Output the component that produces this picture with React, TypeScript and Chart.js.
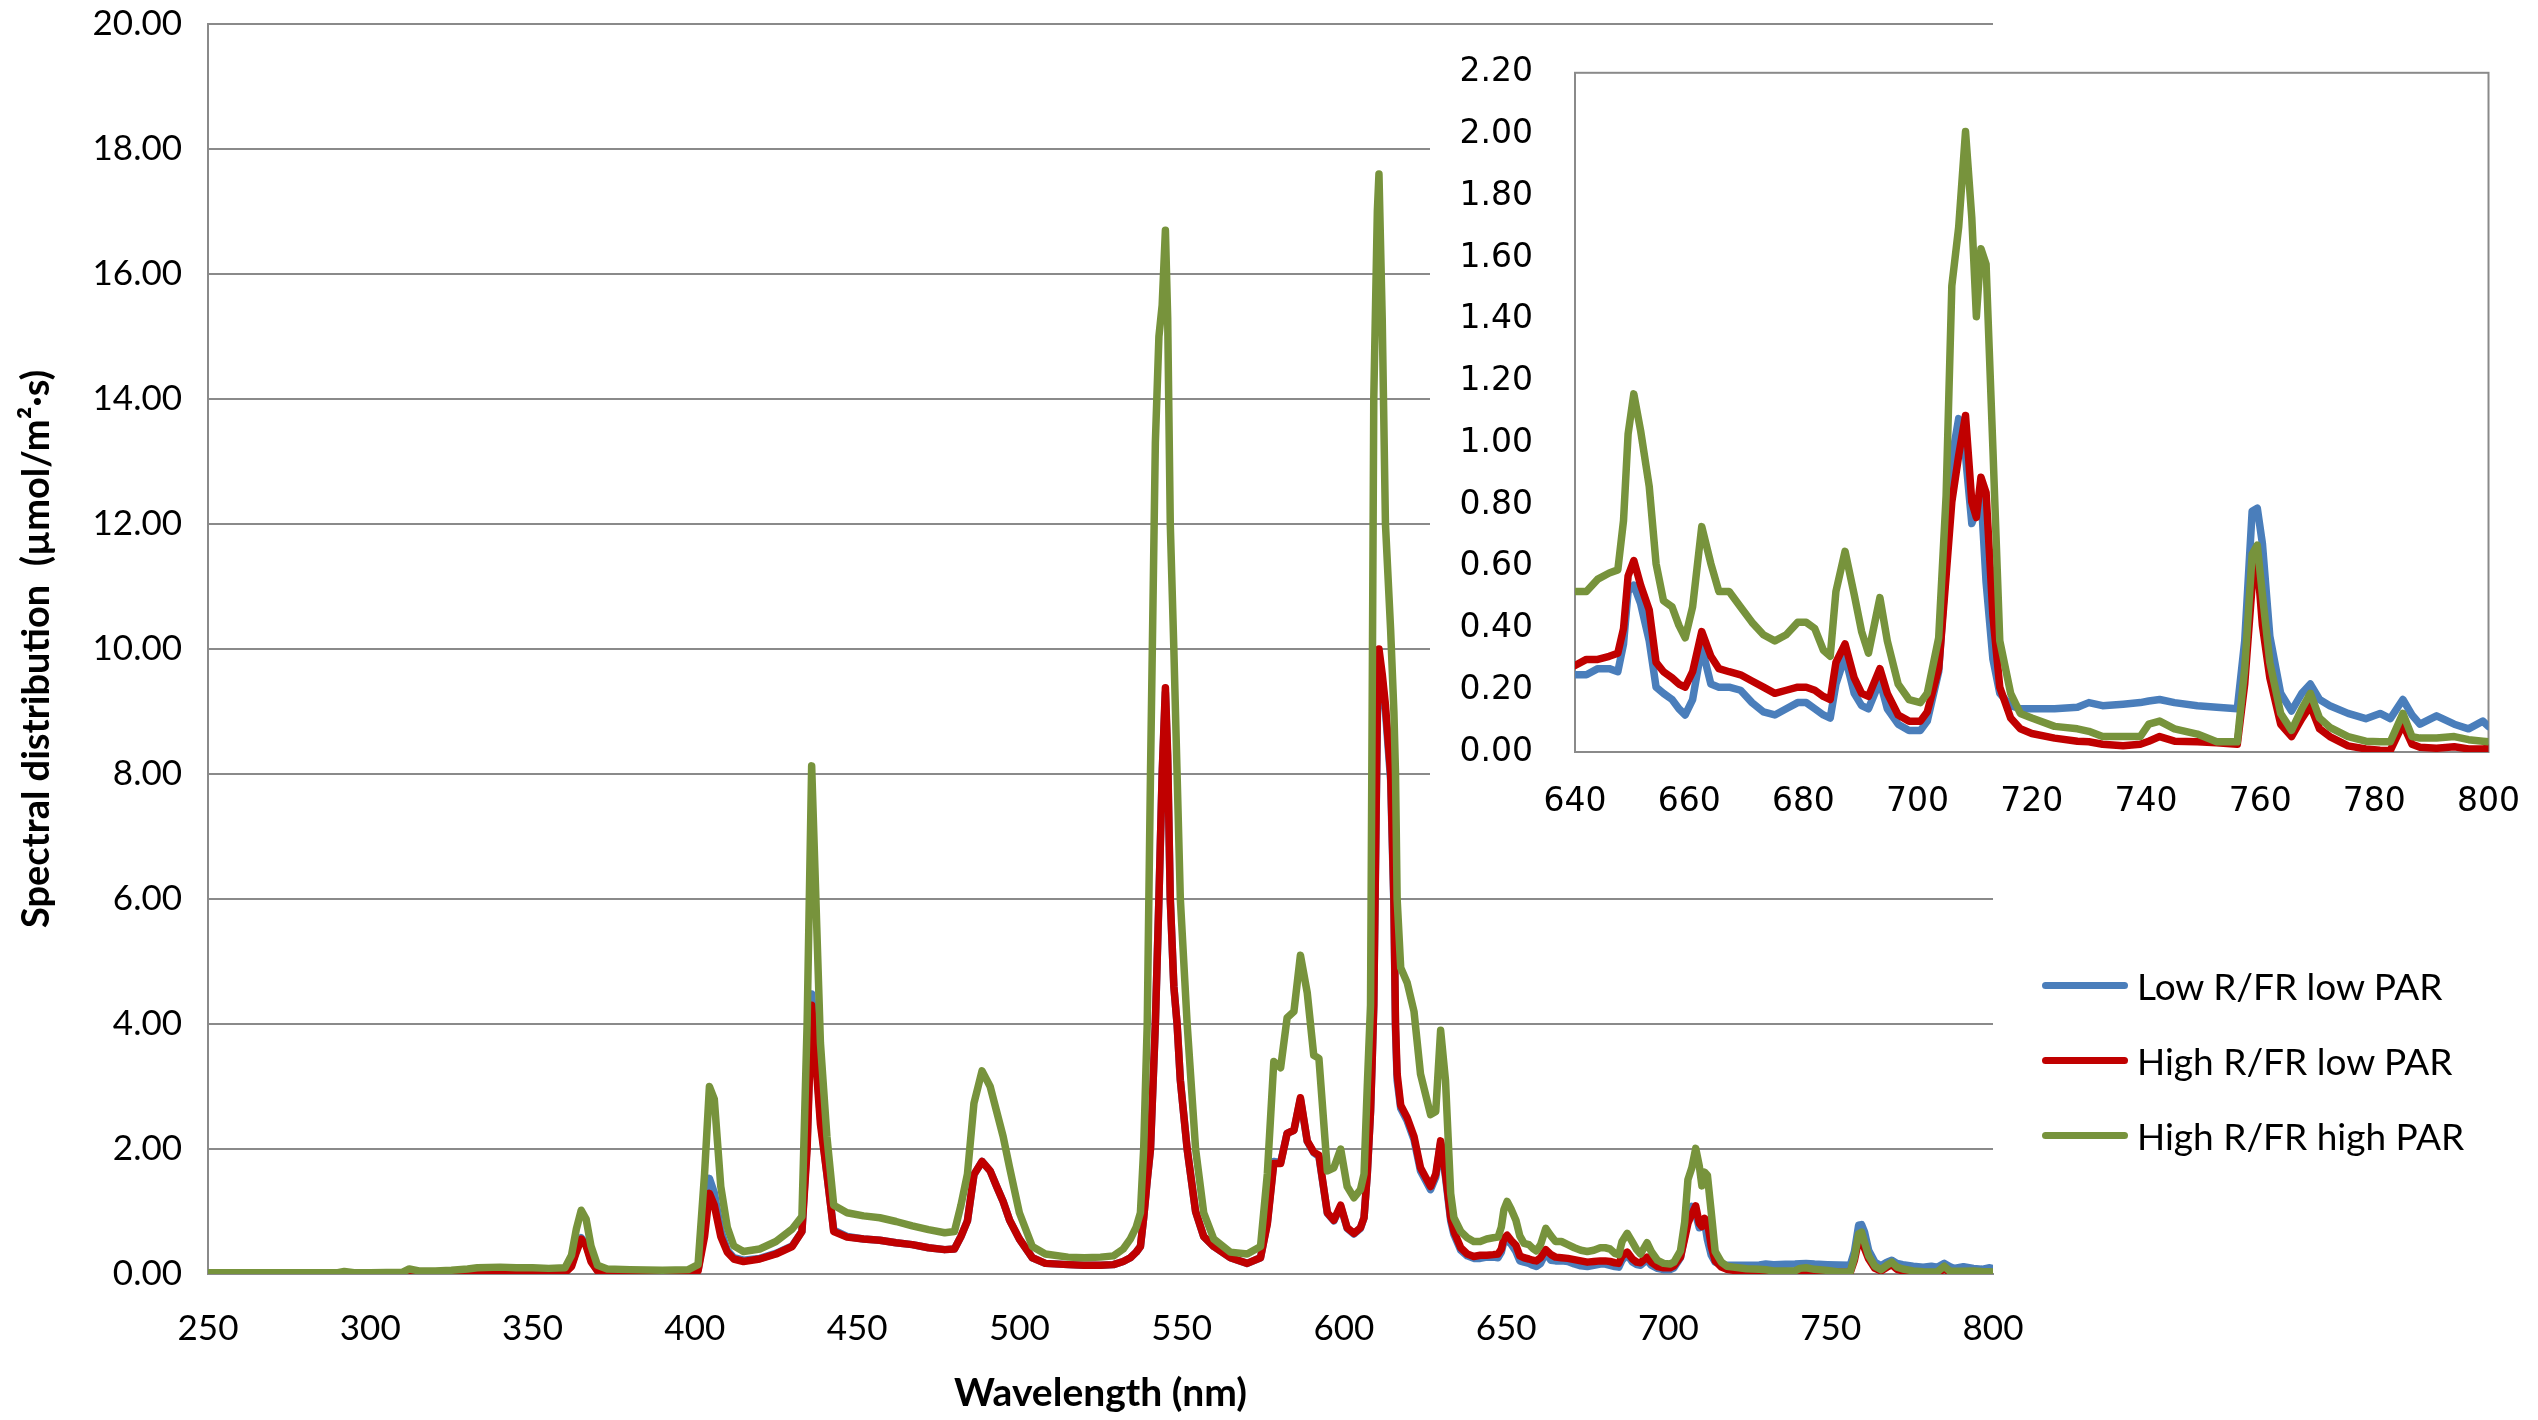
import { useEffect, useRef } from "react";
import { Chart, registerables } from "chart.js";

Chart.register(...registerables);

// wavelength grid (nm), shared by the three spectra
const wavelength = [
  250, 260, 270, 280, 290, 292, 295, 300, 310, 312,
  315, 320, 325, 330, 333, 340, 345, 350, 355, 360,
  362, 363.5, 365, 366.5, 368, 370, 373, 380, 390, 398,
  401, 403, 404.5, 406, 408, 410, 412, 415, 420, 425,
  430, 433, 434.6, 436, 437, 438.7, 440.7, 442.8, 446.9, 452,
  457, 462, 467, 472, 477, 480, 482, 484, 486, 488.5,
  491, 493, 495, 497, 500, 504, 508, 515, 520, 525,
  529, 532, 534.2, 536, 537.3, 538.3, 539.4, 540.4, 541.9, 543,
  544, 545, 545.7, 546.5, 547.6, 548.6, 549.6, 551.7, 554.3, 556.8,
  559.9, 565, 570.2, 574.3, 576.4, 578.4, 580.5, 582.5, 584.6, 586.6,
  588.7, 590.7, 592.3, 594.9, 596.9, 599, 601, 603.1, 605.1, 606.2,
  607.2, 608.2, 608.7, 609.2, 610.3, 610.8, 611.8, 612.8, 614.4, 615.4,
  615.9, 616.4, 617.5, 619.5, 621.6, 623.6, 626.7, 628.3, 629.8, 631.3,
  632.9, 633.9, 636, 638, 640, 642, 644, 646, 647.5, 648.5,
  649.3, 650.3, 651.5, 653, 654.2, 655.5, 657, 658.2, 659.3, 660.6,
  662.2, 663.8, 665.2, 667, 669, 671, 673, 675, 677, 679,
  680.5, 682, 683.5, 684.7, 685.7, 687.3, 688.9, 690.2, 691.4, 693.4,
  694.7, 696.6, 698.5, 700.5, 701.7, 703.7, 705, 706, 707.2, 708.4,
  709.5, 710.3, 711.1, 712, 713.2, 714.4, 716.3, 718, 720, 724,
  728, 730, 732.4, 736, 739, 740.5, 742.4, 745, 749, 752.4,
  756, 757.3, 758.6, 759.5, 760.4, 761.7, 763.6, 765.5, 767.3, 768.8,
  770.4, 772.2, 775.4, 778.5, 781, 782.8, 785, 786.6, 788, 790.9,
  794, 796.5, 799, 800,
];

const lowRfrLowPar = [
  0, 0, 0, 0, 0, 0.01, 0, 0, 0.01, 0.03,
  0.02, 0.02, 0.02, 0.03, 0.04, 0.03, 0.04, 0.02, 0.03, 0.03,
  0.14, 0.38, 0.58, 0.48, 0.22, 0.06, 0.04, 0.03, 0.03, 0.03,
  0.06, 0.7, 1.53, 1.3, 0.7, 0.38, 0.26, 0.22, 0.25, 0.33,
  0.45, 0.68, 2.1, 4.48, 3.7, 2.5, 1.6, 0.7, 0.6, 0.56,
  0.54, 0.5, 0.47, 0.42, 0.39, 0.4, 0.6, 0.85, 1.59, 1.8,
  1.65, 1.4, 1.16, 0.86, 0.56, 0.26, 0.17, 0.15, 0.14, 0.14,
  0.15, 0.2, 0.26, 0.35, 0.44, 0.9, 1.5, 2.0, 4.0, 6.0,
  8.0, 9.3, 8.2, 6.0, 4.6, 4.0, 3.1, 2.0, 1.0, 0.6,
  0.44, 0.26, 0.17, 0.26, 0.82, 1.8, 1.78, 2.25, 2.3, 2.8,
  2.12, 1.94, 1.88, 0.97, 0.85, 1.08, 0.73, 0.64, 0.73, 0.9,
  1.6, 2.6, 3.4, 4.3, 8.9, 9.9, 9.5, 9.0, 7.9, 5.9,
  3.9, 3.1, 2.65, 2.45, 2.15, 1.65, 1.35, 1.55, 2.1, 1.55,
  0.85, 0.63, 0.38, 0.29, 0.25, 0.25, 0.27, 0.27, 0.26, 0.35,
  0.52, 0.54, 0.48, 0.36, 0.21, 0.19, 0.17, 0.14, 0.12, 0.17,
  0.34, 0.22, 0.21, 0.21, 0.2, 0.16, 0.13, 0.12, 0.14, 0.16,
  0.16, 0.14, 0.12, 0.11, 0.22, 0.31, 0.19, 0.15, 0.14, 0.23,
  0.14, 0.09, 0.07, 0.07, 0.1, 0.26, 0.61, 0.95, 1.08, 0.96,
  0.74, 0.78, 0.84, 0.55, 0.3, 0.19, 0.15, 0.14, 0.14, 0.14,
  0.145, 0.16, 0.15, 0.155, 0.16, 0.165, 0.17, 0.16, 0.15, 0.145,
  0.14, 0.36, 0.78, 0.79, 0.675, 0.375, 0.19, 0.133, 0.19, 0.22,
  0.17, 0.15, 0.125, 0.108, 0.125, 0.108, 0.17, 0.12, 0.09, 0.117,
  0.09, 0.075, 0.1, 0.083,
];

const highRfrLowPar = [
  0, 0, 0, 0, 0, 0.01, 0, 0, 0.01, 0.02,
  0.01, 0.01, 0.01, 0.02, 0.03, 0.02, 0.03, 0.01, 0.02, 0.02,
  0.12, 0.35, 0.56, 0.45, 0.2, 0.05, 0.03, 0.02, 0.02, 0.02,
  0.05, 0.6, 1.29, 1.1, 0.6, 0.35, 0.24, 0.2, 0.24, 0.32,
  0.44, 0.68, 2.0, 4.3, 3.6, 2.4, 1.6, 0.68, 0.59, 0.56,
  0.54, 0.5, 0.47, 0.42, 0.39, 0.4, 0.6, 0.85, 1.59, 1.8,
  1.65, 1.4, 1.16, 0.86, 0.56, 0.26, 0.17, 0.15, 0.14, 0.14,
  0.15, 0.2, 0.26, 0.35, 0.44, 0.9, 1.5, 2.0, 4.0, 6.0,
  8.0, 9.38, 8.3, 6.0, 4.6, 4.0, 3.1, 2.0, 1.0, 0.6,
  0.44, 0.26, 0.17, 0.26, 0.8, 1.77, 1.77, 2.25, 2.3, 2.82,
  2.13, 1.95, 1.9, 0.98, 0.86, 1.1, 0.74, 0.65, 0.74, 0.9,
  1.6, 2.6, 3.4, 4.3, 9.0, 10.0, 9.6, 9.1, 8.0, 6.0,
  4.0, 3.2, 2.7, 2.5, 2.2, 1.7, 1.4, 1.6, 2.13, 1.6,
  0.9, 0.68, 0.42, 0.32, 0.28, 0.3, 0.3, 0.31, 0.32, 0.4,
  0.57, 0.62, 0.54, 0.46, 0.29, 0.26, 0.24, 0.22, 0.21, 0.26,
  0.39, 0.31, 0.27, 0.26, 0.25, 0.23, 0.21, 0.19, 0.2, 0.21,
  0.21, 0.2, 0.18, 0.17, 0.29, 0.35, 0.24, 0.19, 0.18, 0.27,
  0.19, 0.12, 0.1, 0.1, 0.13, 0.27, 0.57, 0.81, 0.96, 1.09,
  0.81, 0.76, 0.89, 0.84, 0.44, 0.21, 0.11, 0.075, 0.06, 0.045,
  0.035, 0.033, 0.025, 0.02, 0.025, 0.035, 0.05, 0.035, 0.033, 0.03,
  0.025, 0.22, 0.54, 0.62, 0.41, 0.24, 0.09, 0.05, 0.108, 0.15,
  0.075, 0.05, 0.02, 0.01, 0.006, 0.005, 0.09, 0.025, 0.015, 0.012,
  0.017, 0.01, 0.01, 0.012,
];

const highRfrHighPar = [
  0.02, 0.02, 0.02, 0.02, 0.02, 0.04, 0.02, 0.02, 0.03, 0.08,
  0.05, 0.05, 0.06, 0.08, 0.1, 0.11, 0.1, 0.1, 0.09, 0.1,
  0.3, 0.72, 1.02, 0.88, 0.45, 0.14, 0.08, 0.07, 0.06, 0.07,
  0.15, 1.6, 3.0, 2.8, 1.4, 0.75, 0.45, 0.36, 0.4, 0.52,
  0.72, 0.92, 4.0, 8.13, 6.5, 3.7, 2.2, 1.1, 0.98, 0.93,
  0.9, 0.84, 0.77, 0.71, 0.66, 0.68, 1.1, 1.6, 2.73, 3.25,
  3.0, 2.6, 2.2, 1.7, 0.98, 0.44, 0.32, 0.27, 0.26, 0.27,
  0.29, 0.4, 0.56, 0.75, 0.98, 2.0, 4.0, 8.0, 13.3, 15.0,
  15.5, 16.7, 15.3, 12.0, 10.0, 8.0, 6.0, 4.0, 2.0, 0.98,
  0.56, 0.35, 0.32, 0.44, 1.6, 3.4, 3.3, 4.1, 4.2, 5.1,
  4.5, 3.5, 3.45, 1.65, 1.7, 2.0, 1.4, 1.22, 1.35, 1.6,
  3.0, 4.3, 9.0, 14.0, 17.0, 17.6, 15.3, 12.0, 10.3, 9.0,
  8.0, 6.0, 4.9, 4.66, 4.2, 3.2, 2.55, 2.6, 3.9, 3.1,
  1.29, 0.9, 0.68, 0.58, 0.52, 0.52, 0.56, 0.58, 0.59, 0.75,
  1.03, 1.16, 1.04, 0.86, 0.61, 0.49, 0.47, 0.41, 0.37, 0.47,
  0.73, 0.61, 0.52, 0.52, 0.47, 0.42, 0.38, 0.36, 0.38, 0.42,
  0.42, 0.4, 0.33, 0.31, 0.52, 0.65, 0.51, 0.39, 0.32, 0.5,
  0.36, 0.22, 0.17, 0.16, 0.19, 0.37, 0.83, 1.51, 1.7, 2.01,
  1.73, 1.41, 1.63, 1.58, 0.98, 0.36, 0.19, 0.125, 0.11, 0.083,
  0.075, 0.067, 0.05, 0.05, 0.05, 0.09, 0.1, 0.075, 0.058, 0.033,
  0.033, 0.27, 0.64, 0.67, 0.51, 0.29, 0.125, 0.07, 0.14, 0.19,
  0.11, 0.08, 0.05, 0.035, 0.033, 0.033, 0.125, 0.05, 0.045, 0.045,
  0.05, 0.04, 0.035, 0.033,
];

const seriesLabels = ["Low R/FR low PAR", "High R/FR low PAR", "High R/FR high PAR"];
const seriesColors = ["#4a7ebb", "#c00000", "#77933c"];

const GRID = "#8a8a8a";

const toPoints = (values: number[], from: number, to: number) =>
  wavelength
    .map((x, i) => ({ x, y: values[i] }))
    .filter((p) => p.x >= from && p.x <= to);

// green sits on top, blue underneath, like the original
const makeDatasets = (from: number, to: number) =>
  [lowRfrLowPar, highRfrLowPar, highRfrHighPar].map((values, i) => ({
    label: seriesLabels[i],
    data: toPoints(values, from, to),
    borderColor: seriesColors[i],
    backgroundColor: seriesColors[i],
    borderWidth: 7.5,
    pointRadius: 0,
    tension: 0,
    borderJoinStyle: "round" as const,
    borderCapStyle: "round" as const,
    order: 2 - i,
  }));

// box round the inset plot
const framePlugin = {
  id: "frame",
  beforeDatasetsDraw(chart: Chart) {
    const { ctx, chartArea } = chart;
    ctx.save();
    ctx.strokeStyle = GRID;
    ctx.lineWidth = 2;
    ctx.strokeRect(chartArea.left, chartArea.top, chartArea.right - chartArea.left, chartArea.bottom - chartArea.top);
    ctx.restore();
  },
};

const MainChart = () => {
  const canvasRef = useRef<HTMLCanvasElement | null>(null);

  useEffect(() => {
    if (!canvasRef.current) return;
    const chart = new Chart(canvasRef.current, {
      type: "line",
      data: { datasets: makeDatasets(250, 800) },
      options: {
        animation: false,
        responsive: false,
        devicePixelRatio: 1,
        layout: { padding: { left: 0, top: 0, right: 545, bottom: 0 } },
        plugins: { legend: { display: false }, tooltip: { enabled: false } },
        scales: {
          x: {
            type: "linear",
            min: 250,
            max: 800,
            ticks: {
              stepSize: 50,
              padding: 34,
              color: "#000",
              maxRotation: 0,
              font: { family: "Lato", size: 35 },
            },
            grid: { display: false, drawTicks: false },
            border: { display: true, color: GRID, width: 2 },
            title: {
              display: true,
              text: "Wavelength (nm)",
              color: "#000",
              font: { family: "Lato", size: 39, weight: "bold" },
              padding: { top: 0, bottom: 3 },
            },
            afterFit: (scale) => {
              scale.height = 146;
            },
          },
          y: {
            min: 0,
            max: 20,
            ticks: {
              stepSize: 2,
              padding: 26,
              color: "#000",
              font: { family: "Lato", size: 35 },
              callback: (v) => Number(v).toFixed(2),
            },
            grid: { color: GRID, lineWidth: 2, drawTicks: false },
            border: { display: true, color: GRID, width: 2 },
            title: {
              display: true,
              text: "Spectral distribution  (µmol/m²·s)",
              color: "#000",
              font: { family: "Lato", size: 38, weight: "bold" },
              padding: { top: 14, bottom: 0 },
            },
            afterFit: (scale) => {
              scale.width = 208;
            },
          },
        },
      },
    });
    return () => chart.destroy();
  }, []);

  // canvas is raised a little: Chart.js keeps room for the top tick label
  return <canvas ref={canvasRef} width={2538} height={1443} style={{ position: "absolute", left: 0, top: -23 }} />;
};

const InsetChart = () => {
  const canvasRef = useRef<HTMLCanvasElement | null>(null);

  useEffect(() => {
    if (!canvasRef.current) return;
    const chart = new Chart(canvasRef.current, {
      type: "line",
      data: { datasets: makeDatasets(640, 800) },
      options: {
        animation: false,
        responsive: false,
        devicePixelRatio: 1,
        layout: { padding: { left: 0, top: 0, right: 13, bottom: 0 } },
        plugins: { legend: { display: false }, tooltip: { enabled: false } },
        scales: {
          x: {
            type: "linear",
            min: 640,
            max: 800,
            ticks: {
              stepSize: 20,
              padding: 31,
              color: "#000",
              maxRotation: 0,
              font: { family: "DejaVu Sans", size: 33 },
            },
            grid: { display: false, drawTicks: false },
            border: { display: false },
            afterFit: (scale) => {
              scale.height = 98;
            },
          },
          y: {
            min: 0,
            max: 2.2,
            ticks: {
              stepSize: 0.2,
              padding: 42,
              color: "#000",
              font: { family: "DejaVu Sans", size: 33 },
              callback: (v) => Number(v).toFixed(2),
            },
            grid: { display: false, drawTicks: false },
            border: { display: false },
            afterFit: (scale) => {
              scale.width = 145;
            },
          },
        },
      },
      plugins: [framePlugin],
    });
    return () => chart.destroy();
  }, []);

  // the canvas runs a little past the page edge so the frame lands where the original's does
  return (
    <canvas
      ref={canvasRef}
      width={1121}
      height={839}
      style={{ position: "absolute", left: 1430, top: 11 }}
    />
  );
};

const legendRows = [985, 1060, 1135];

const App = () => (
  <div
    style={{
      position: "fixed",
      left: 0,
      top: 0,
      width: 2538,
      height: 1420,
      background: "#fff",
      overflow: "hidden",
      fontFamily: "Lato, sans-serif",
    }}
  >
    <MainChart />
    {/* white panel behind the inset hides the main grid lines */}
    <div style={{ position: "absolute", left: 1430, top: 36, width: 1108, height: 814, background: "#fff" }} />
    <InsetChart />
    {seriesLabels.map((label, i) => (
      <div
        key={label}
        style={{
          position: "absolute",
          left: 2042,
          top: legendRows[i] - 24,
          height: 48,
          display: "flex",
          alignItems: "center",
          whiteSpace: "nowrap",
        }}
      >
        <span
          style={{
            display: "inline-block",
            width: 86,
            height: 7,
            borderRadius: 4,
            background: seriesColors[i],
            marginRight: 9,
          }}
        />
        <span style={{ fontSize: 37, color: "#000" }}>{label}</span>
      </div>
    ))}
  </div>
);

export default App;
